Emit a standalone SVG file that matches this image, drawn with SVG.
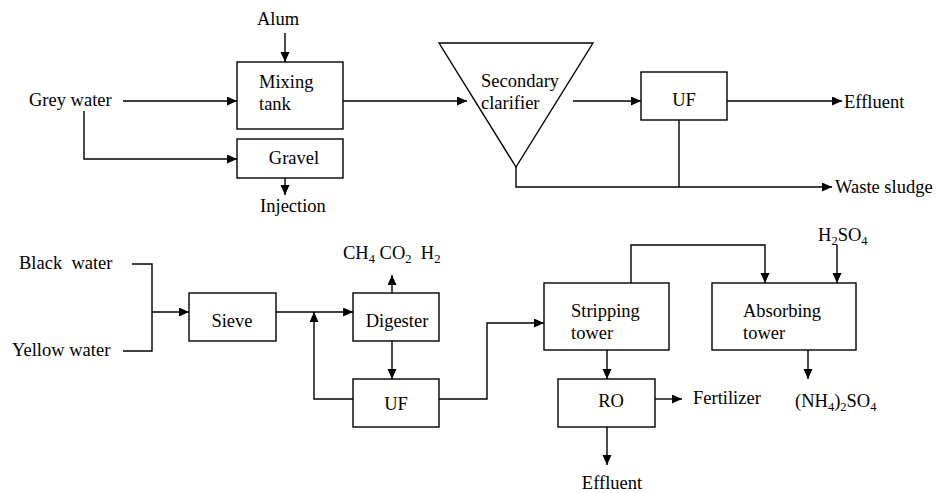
<svg xmlns="http://www.w3.org/2000/svg" width="938" height="493" viewBox="0 0 938 493" font-family="Liberation Serif, Times New Roman, serif" font-size="18.5">
<style>
text, tspan{font-family:'Liberation Serif','Times New Roman',serif;fill:#000}
text{font-size:18.5px}
.sub{font-size:12.5px}
.box{fill:#fff;stroke:#000;stroke-width:1.4}
.ln{fill:none;stroke:#000;stroke-width:1.4}
.ar{marker-end:url(#ah)}
</style>
<defs>
<marker id="ah" markerUnits="userSpaceOnUse" markerWidth="11" markerHeight="10" refX="10" refY="4.5" orient="auto">
<path d="M0,0 L10,4.5 L0,9 z" fill="#000"/>
</marker>
</defs>
<rect width="938" height="493" fill="#fff"/>

<g id="connectors">
<path class="ln ar" d="M285,33 L285,62"/>
<path class="ln ar" d="M123,101 L237,101"/>
<path class="ln ar" d="M84,111 L84,159 L237,159"/>
<path class="ln ar" d="M285,178 L285,195"/>
<path class="ln ar" d="M343,101 L467,101"/>
<path class="ln ar" d="M573,101 L641,101"/>
<path class="ln ar" d="M727,101 L842,101"/>
<path class="ln ar" d="M516,159 L516,187 L832,187"/>
<path class="ln" d="M679,120 L679,187"/>
<path class="ln" d="M132,264 L152,264 L152,351 L123,351"/>
<path class="ln ar" d="M152,312 L189,312"/>
<path class="ln ar" d="M276,312 L353,312"/>
<path class="ln ar" d="M392,293 L392,275"/>
<path class="ln ar" d="M392,341 L392,379"/>
<path class="ln ar" d="M353,399 L314,399 L314,312"/>
<path class="ln ar" d="M439,399 L487,399 L487,323 L544,323"/>
<path class="ln ar" d="M631,283 L631,245 L765,245 L765,283"/>
<path class="ln ar" d="M837,245 L837,283"/>
<path class="ln ar" d="M808,350 L808,379"/>
<path class="ln ar" d="M607,350 L607,379"/>
<path class="ln ar" d="M655,399 L682,399"/>
<path class="ln ar" d="M607,427 L607,465"/>
</g>

<g id="alum"><text x="278" y="25" text-anchor="middle">Alum</text></g>
<g id="grey-water"><text x="29" y="106">Grey water</text></g>
<g id="mixing-tank">
<rect class="box" x="237" y="62" width="106" height="67"/>
<text x="259" y="88">Mixing</text>
<text x="259" y="110">tank</text>
</g>
<g id="gravel">
<rect class="box" x="237" y="139" width="106" height="39"/>
<text x="294" y="164" text-anchor="middle">Gravel</text>
</g>
<g id="injection"><text x="293" y="212" text-anchor="middle">Injection</text></g>
<g id="secondary-clarifier">
<path class="box" d="M439,43 L593,43 L516,167 Z"/>
<text x="481" y="87">Secondary</text>
<text x="481" y="109">clarifier</text>
</g>
<g id="uf-top">
<rect class="box" x="641" y="72" width="86" height="48"/>
<text x="684" y="106" text-anchor="middle">UF</text>
</g>
<g id="effluent-top"><text x="844" y="108">Effluent</text></g>
<g id="waste-sludge"><text x="835" y="193">Waste sludge</text></g>

<g id="black-water"><text x="19" y="269" xml:space="preserve">Black  water</text></g>
<g id="yellow-water"><text x="12" y="356">Yellow water</text></g>
<g id="sieve">
<rect class="box" x="189" y="293" width="87" height="48"/>
<text x="232" y="327" text-anchor="middle">Sieve</text>
</g>
<g id="gases"><text x="343" y="259" xml:space="preserve">CH<tspan class="sub" dy="4">4</tspan><tspan dy="-4"> CO</tspan><tspan class="sub" dy="4">2</tspan><tspan dy="-4">  H</tspan><tspan class="sub" dy="4">2</tspan></text></g>
<g id="digester">
<rect class="box" x="353" y="293" width="86" height="48"/>
<text x="397" y="327" text-anchor="middle">Digester</text>
</g>
<g id="uf-bottom">
<rect class="box" x="353" y="379" width="86" height="48"/>
<text x="396" y="410" text-anchor="middle">UF</text>
</g>
<g id="stripping-tower">
<rect class="box" x="544" y="283" width="125" height="67"/>
<text x="571" y="317">Stripping</text>
<text x="571" y="339">tower</text>
</g>
<g id="absorbing-tower">
<rect class="box" x="712" y="283" width="144" height="67"/>
<text x="743" y="317">Absorbing</text>
<text x="743" y="339">tower</text>
</g>
<g id="h2so4"><text x="818" y="241">H<tspan class="sub" dy="4">2</tspan><tspan dy="-4">SO</tspan><tspan class="sub" dy="4">4</tspan></text></g>
<g id="nh42so4"><text x="795" y="407">(NH<tspan class="sub" dy="4">4</tspan><tspan dy="-4">)</tspan><tspan class="sub" dy="4">2</tspan><tspan dy="-4">SO</tspan><tspan class="sub" dy="4">4</tspan></text></g>
<g id="ro">
<rect class="box" x="558" y="379" width="97" height="48"/>
<text x="611" y="407" text-anchor="middle">RO</text>
</g>
<g id="fertilizer"><text x="693" y="404">Fertilizer</text></g>
<g id="effluent-bottom"><text x="612" y="489" text-anchor="middle">Effluent</text></g>
</svg>
